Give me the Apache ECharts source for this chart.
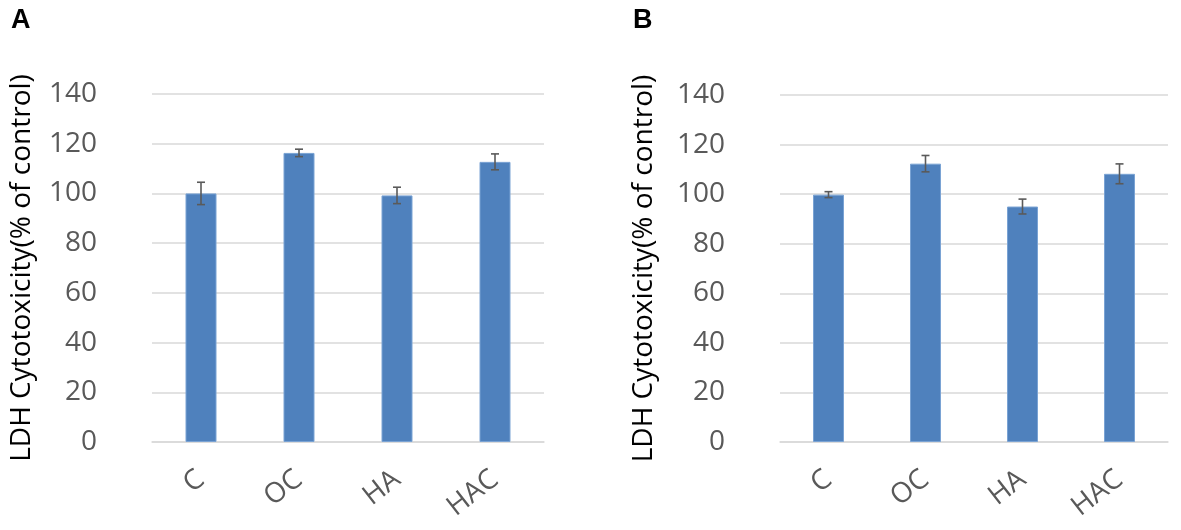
<!DOCTYPE html>
<html>
<head>
<meta charset="utf-8">
<script src="https://cdn.jsdelivr.net/npm/echarts@6/dist/echarts.min.js"></script>
<style>
  html, body { margin: 0; padding: 0; background: #fff; }
  #chart { width: 1181px; height: 530px; }
</style>
</head>
<body>
<div id="chart"></div>
<script>
var chart = echarts.init(document.getElementById('chart'));

// data
var categories = ['C', 'OC', 'HA', 'HAC'];
var meanA = [100, 116.3, 99.2, 112.7];
var errA = [4.5, 1.5, 3.3, 3.2];
var meanB = [99.8, 112.3, 95, 108.2];
var errB = [1.2, 3.3, 3, 4];
var yTicks = { min: 0, max: 140, interval: 20 };

var barColor = '#4f81bd';
var labelFont = '"Open Sans", "Liberation Sans", sans-serif';

function errData(mean, err) {
    return mean.map(function (m, i) {
        return [i, m - err[i], m + err[i]];
    });
}

// whisker with caps
function renderErr(params, api) {
    var x = api.value(0);
    var lo = api.coord([x, api.value(1)]);
    var hi = api.coord([x, api.value(2)]);
    var w = 4;
    var st = { stroke: '#5a5a5a', lineWidth: 1.6 };
    return {
        type: 'group',
        children: [
            { type: 'line', shape: { x1: hi[0], y1: hi[1], x2: lo[0], y2: lo[1] }, style: st },
            { type: 'line', shape: { x1: hi[0] - w, y1: hi[1], x2: hi[0] + w, y2: hi[1] }, style: st },
            { type: 'line', shape: { x1: lo[0] - w, y1: lo[1], x2: lo[0] + w, y2: lo[1] }, style: st }
        ]
    };
}

function xAx(idx) {
    return {
        type: 'category',
        gridIndex: idx,
        data: categories,
        axisLine: { lineStyle: { color: '#d9d9d9', width: 1.5 } },
        axisTick: { show: false },
        axisLabel: {
            color: '#595959',
            fontSize: 28,
            fontFamily: labelFont,
            rotate: 38,
            margin: 34
        }
    };
}

function yAx(idx, gap) {
    return {
        type: 'value',
        gridIndex: idx,
        min: yTicks.min,
        max: yTicks.max,
        interval: yTicks.interval,
        name: 'LDH Cytotoxicity(% of control)',
        nameLocation: 'middle',
        nameRotate: 90,
        nameGap: gap,
        nameTextStyle: { color: '#000', fontSize: 28, fontFamily: labelFont },
        axisLine: { show: false },
        axisTick: { show: false },
        splitLine: { lineStyle: { color: '#d9d9d9', width: 1.5 } },
        axisLabel: {
            color: '#595959',
            fontSize: 28,
            fontFamily: labelFont,
            margin: 55
        }
    };
}

var option = {
    animation: false,
    title: [
        { text: 'A', left: 6, top: 2, textStyle: { fontSize: 27, fontWeight: 'bold', color: '#000', fontFamily: 'Liberation Sans, Arial' } },
        { text: 'B', left: 628, top: 2, textStyle: { fontSize: 27, fontWeight: 'bold', color: '#000', fontFamily: 'Liberation Sans, Arial' } }
    ],
    grid: [
        { left: 152, right: 637, top: 94, bottom: 88 },
        { left: 780, right: 13, top: 95, bottom: 88 }
    ],
    xAxis: [xAx(0), xAx(1)],
    yAxis: [yAx(0, 116), yAx(1, 122)],
    series: [
        {
            type: 'bar', xAxisIndex: 0, yAxisIndex: 0,
            data: meanA, barWidth: 31,
            itemStyle: { color: barColor, borderColor: '#7aa3d4', borderWidth: 1 }
        },
        {
            type: 'custom', xAxisIndex: 0, yAxisIndex: 0,
            data: errData(meanA, errA), renderItem: renderErr, z: 5
        },
        {
            type: 'bar', xAxisIndex: 1, yAxisIndex: 1,
            data: meanB, barWidth: 31,
            itemStyle: { color: barColor, borderColor: '#7aa3d4', borderWidth: 1 }
        },
        {
            type: 'custom', xAxisIndex: 1, yAxisIndex: 1,
            data: errData(meanB, errB), renderItem: renderErr, z: 5
        }
    ]
};

chart.setOption(option);
</script>
</body>
</html>
